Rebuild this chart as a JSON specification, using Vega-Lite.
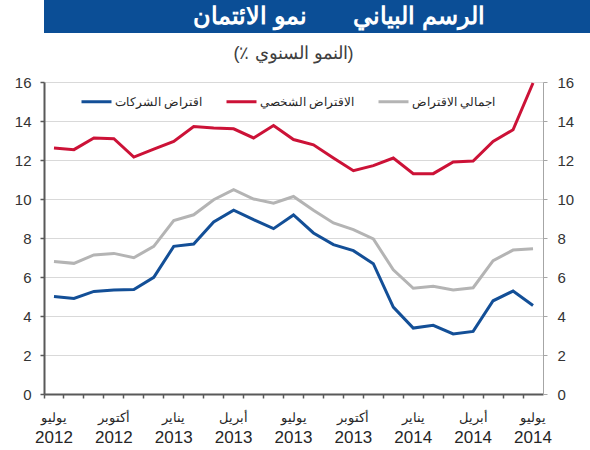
{
  "$schema": "https://vega.github.io/schema/vega-lite/v6.json",
  "padding": 0,
  "spacing": 12,
  "background": "white",
  "config": {"view": {"stroke": null}, "font": "Liberation Sans"},
  "vconcat": [
    {
      "width": 590,
      "height": 33,
      "view": {"fill": "#0b4e96", "stroke": null},
      "data": {"values": [{"t": "الرسم البياني\u00a0\u00a0\u00a0\u00a0\u00a0\u00a0\u00a0نمو الائتمان"}]},
      "mark": {"type": "text", "color": "white", "fontSize": 24, "fontWeight": "bold", "baseline": "middle", "align": "center"},
      "encoding": {"text": {"field": "t"}}
    },
    {
      "width": 499,
      "height": 312,
      "title": {"text": "(٪ النمو السنوي)", "fontSize": 18, "fontWeight": "normal", "color": "#404040", "offset": 12, "anchor": "middle"},
      "data": {"values": [
        {"m": "2012-07", "s": "اقتراض الشركات", "v": 5.0},
        {"m": "2012-08", "s": "اقتراض الشركات", "v": 4.9},
        {"m": "2012-09", "s": "اقتراض الشركات", "v": 5.26},
        {"m": "2012-10", "s": "اقتراض الشركات", "v": 5.33},
        {"m": "2012-11", "s": "اقتراض الشركات", "v": 5.36},
        {"m": "2012-12", "s": "اقتراض الشركات", "v": 5.98},
        {"m": "2013-01", "s": "اقتراض الشركات", "v": 7.57},
        {"m": "2013-02", "s": "اقتراض الشركات", "v": 7.69},
        {"m": "2013-03", "s": "اقتراض الشركات", "v": 8.82},
        {"m": "2013-04", "s": "اقتراض الشركات", "v": 9.43},
        {"m": "2013-05", "s": "اقتراض الشركات", "v": 8.94},
        {"m": "2013-06", "s": "اقتراض الشركات", "v": 8.48},
        {"m": "2013-07", "s": "اقتراض الشركات", "v": 9.18},
        {"m": "2013-08", "s": "اقتراض الشركات", "v": 8.26},
        {"m": "2013-09", "s": "اقتراض الشركات", "v": 7.66},
        {"m": "2013-10", "s": "اقتراض الشركات", "v": 7.35},
        {"m": "2013-11", "s": "اقتراض الشركات", "v": 6.68},
        {"m": "2013-12", "s": "اقتراض الشركات", "v": 4.46},
        {"m": "2014-01", "s": "اقتراض الشركات", "v": 3.38},
        {"m": "2014-02", "s": "اقتراض الشركات", "v": 3.52},
        {"m": "2014-03", "s": "اقتراض الشركات", "v": 3.08},
        {"m": "2014-04", "s": "اقتراض الشركات", "v": 3.21},
        {"m": "2014-05", "s": "اقتراض الشركات", "v": 4.78},
        {"m": "2014-06", "s": "اقتراض الشركات", "v": 5.28},
        {"m": "2014-07", "s": "اقتراض الشركات", "v": 4.54},
        {"m": "2012-07", "s": "الاقتراض الشخصي", "v": 12.62},
        {"m": "2012-08", "s": "الاقتراض الشخصي", "v": 12.53},
        {"m": "2012-09", "s": "الاقتراض الشخصي", "v": 13.13},
        {"m": "2012-10", "s": "الاقتراض الشخصي", "v": 13.09},
        {"m": "2012-11", "s": "الاقتراض الشخصي", "v": 12.15},
        {"m": "2012-12", "s": "الاقتراض الشخصي", "v": 12.56},
        {"m": "2013-01", "s": "الاقتراض الشخصي", "v": 12.95},
        {"m": "2013-02", "s": "الاقتراض الشخصي", "v": 13.72},
        {"m": "2013-03", "s": "الاقتراض الشخصي", "v": 13.64},
        {"m": "2013-04", "s": "الاقتراض الشخصي", "v": 13.6},
        {"m": "2013-05", "s": "الاقتراض الشخصي", "v": 13.13},
        {"m": "2013-06", "s": "الاقتراض الشخصي", "v": 13.77},
        {"m": "2013-07", "s": "الاقتراض الشخصي", "v": 13.05},
        {"m": "2013-08", "s": "الاقتراض الشخصي", "v": 12.78},
        {"m": "2013-09", "s": "الاقتراض الشخصي", "v": 12.1},
        {"m": "2013-10", "s": "الاقتراض الشخصي", "v": 11.45},
        {"m": "2013-11", "s": "الاقتراض الشخصي", "v": 11.71},
        {"m": "2013-12", "s": "الاقتراض الشخصي", "v": 12.1},
        {"m": "2014-01", "s": "الاقتراض الشخصي", "v": 11.3},
        {"m": "2014-02", "s": "الاقتراض الشخصي", "v": 11.3},
        {"m": "2014-03", "s": "الاقتراض الشخصي", "v": 11.9},
        {"m": "2014-04", "s": "الاقتراض الشخصي", "v": 11.95},
        {"m": "2014-05", "s": "الاقتراض الشخصي", "v": 12.95},
        {"m": "2014-06", "s": "الاقتراض الشخصي", "v": 13.55},
        {"m": "2014-07", "s": "الاقتراض الشخصي", "v": 15.95},
        {"m": "2012-07", "s": "اجمالي الاقتراض", "v": 6.8},
        {"m": "2012-08", "s": "اجمالي الاقتراض", "v": 6.7},
        {"m": "2012-09", "s": "اجمالي الاقتراض", "v": 7.13},
        {"m": "2012-10", "s": "اجمالي الاقتراض", "v": 7.21},
        {"m": "2012-11", "s": "اجمالي الاقتراض", "v": 6.99},
        {"m": "2012-12", "s": "اجمالي الاقتراض", "v": 7.57},
        {"m": "2013-01", "s": "اجمالي الاقتراض", "v": 8.89},
        {"m": "2013-02", "s": "اجمالي الاقتراض", "v": 9.19},
        {"m": "2013-03", "s": "اجمالي الاقتراض", "v": 9.96},
        {"m": "2013-04", "s": "اجمالي الاقتراض", "v": 10.48},
        {"m": "2013-05", "s": "اجمالي الاقتراض", "v": 10.0},
        {"m": "2013-06", "s": "اجمالي الاقتراض", "v": 9.79},
        {"m": "2013-07", "s": "اجمالي الاقتراض", "v": 10.13},
        {"m": "2013-08", "s": "اجمالي الاقتراض", "v": 9.42},
        {"m": "2013-09", "s": "اجمالي الاقتراض", "v": 8.77},
        {"m": "2013-10", "s": "اجمالي الاقتراض", "v": 8.43},
        {"m": "2013-11", "s": "اجمالي الاقتراض", "v": 7.95},
        {"m": "2013-12", "s": "اجمالي الاقتراض", "v": 6.37},
        {"m": "2014-01", "s": "اجمالي الاقتراض", "v": 5.42},
        {"m": "2014-02", "s": "اجمالي الاقتراض", "v": 5.52},
        {"m": "2014-03", "s": "اجمالي الاقتراض", "v": 5.33},
        {"m": "2014-04", "s": "اجمالي الاقتراض", "v": 5.45},
        {"m": "2014-05", "s": "اجمالي الاقتراض", "v": 6.84},
        {"m": "2014-06", "s": "اجمالي الاقتراض", "v": 7.38},
        {"m": "2014-07", "s": "اجمالي الاقتراض", "v": 7.45}
      ]},
      "layer": [
        {
          "mark": {"type": "line", "strokeWidth": 3},
          "encoding": {
            "x": {
              "field": "m", "type": "ordinal", "sort": null,
              "scale": {"type": "band", "paddingInner": 0, "paddingOuter": 0},
              "axis": {
                "orient": "bottom", "title": null, "grid": false, "labels": false,
                "bandPosition": 0, "tickSize": 4, "tickColor": "#595959", "tickWidth": 1.5,
                "domainColor": "#595959", "domainWidth": 2
              }
            },
            "y": {
              "field": "v", "type": "quantitative",
              "scale": {"domain": [0, 16], "nice": false},
              "axis": {
                "orient": "left", "title": null, "values": [0, 2, 4, 6, 8, 10, 12, 14, 16],
                "grid": true, "gridColor": "#d9d9d9", "gridWidth": 1,
                "domainColor": "#595959", "domainWidth": 2,
                "tickSize": 4, "tickColor": "#595959", "tickWidth": 1.5,
                "labelFontSize": 15, "labelColor": "#333333", "labelPadding": 9,
                "minExtent": 44
              }
            },
            "color": {
              "field": "s", "type": "nominal",
              "scale": {"domain": ["اقتراض الشركات", "الاقتراض الشخصي", "اجمالي الاقتراض"], "range": ["#134f97", "#cc1237", "#b4b4b4"]},
              "legend": {
                "orient": "none", "legendX": 36, "legendY": 85, "direction": "horizontal", "title": null,
                "symbolType": "stroke", "symbolSize": 900, "symbolStrokeWidth": 3,
                "labelFontSize": 12, "labelColor": "#262626", "labelOffset": 2, "columnPadding": 17, "padding": 0
              }
            }
          }
        },
        {
          "mark": {"type": "line", "opacity": 0},
          "encoding": {
            "x": {
              "field": "m", "type": "ordinal", "sort": null,
              "scale": {"type": "band", "paddingInner": 0, "paddingOuter": 0},
              "axis": {
                "orient": "bottom", "title": null, "grid": false, "domain": false, "ticks": false, "tickSize": 0,
                "labelAngle": 0, "labelFontSize": 13, "labelColor": "#262626", "labelPadding": 17,
                "labelOverlap": false,
                "labelExpr": "['يناير','','','أبريل','','','يوليو','','','أكتوبر','',''][toNumber(slice(datum.value,5))-1]"
              }
            },
            "y": {
              "field": "v", "type": "quantitative",
              "scale": {"domain": [0, 16], "nice": false},
              "axis": {
                "orient": "right", "title": null, "values": [0, 2, 4, 6, 8, 10, 12, 14, 16],
                "grid": false, "domainColor": "#a6a6a6", "domainWidth": 1,
                "tickSize": 4, "tickColor": "#a6a6a6",
                "labelFontSize": 15, "labelColor": "#333333", "labelPadding": 10
              }
            },
            "detail": {"field": "s"}
          }
        },
        {
          "mark": {"type": "line", "opacity": 0},
          "encoding": {
            "x": {
              "field": "m", "type": "ordinal", "sort": null,
              "scale": {"type": "band", "paddingInner": 0, "paddingOuter": 0},
              "axis": {
                "orient": "bottom", "title": null, "grid": false, "domain": false, "ticks": false, "tickSize": 0,
                "labelAngle": 0, "labelFontSize": 17, "labelColor": "#262626", "labelPadding": 35,
                "labelOverlap": false,
                "labelExpr": "(toNumber(slice(datum.value,5))-1)%3==0 ? slice(datum.value,0,4) : ''"
              }
            },
            "y": {
              "field": "v", "type": "quantitative",
              "scale": {"domain": [0, 16], "nice": false},
              "axis": null
            },
            "detail": {"field": "s"}
          }
        }
      ],
      "resolve": {"axis": {"x": "independent", "y": "independent"}}
    }
  ]
}
